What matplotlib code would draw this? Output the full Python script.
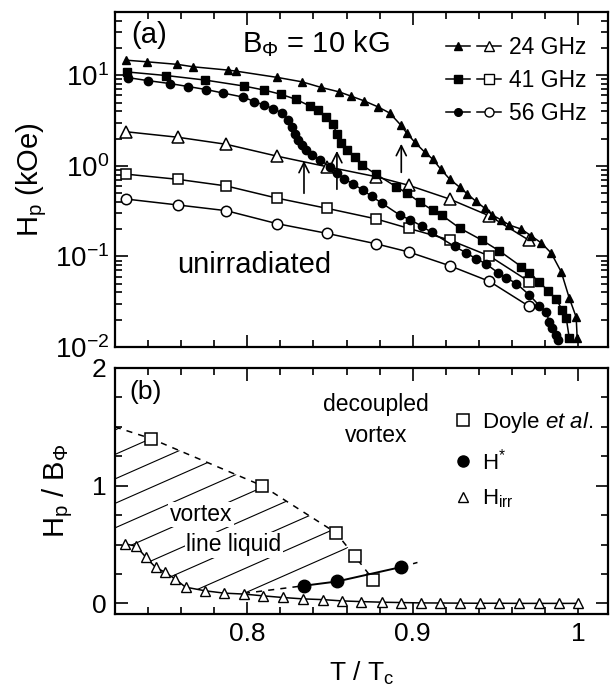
import matplotlib
matplotlib.use("Agg")
import matplotlib.pyplot as plt
from matplotlib.lines import Line2D
from matplotlib.legend_handler import HandlerTuple
from matplotlib.patches import Polygon
from matplotlib.ticker import MultipleLocator
import numpy as np

plt.rcParams['font.family'] = ['Liberation Sans', 'DejaVu Sans']
plt.rcParams['mathtext.fontset'] = 'custom'
plt.rcParams['mathtext.rm'] = 'Liberation Sans'
plt.rcParams['mathtext.it'] = 'Liberation Sans:italic'
plt.rcParams['mathtext.bf'] = 'Liberation Sans:bold'

# ---- panel (a): Hp vs T/Tc, unirradiated (open) and B_phi = 10 kG (filled)
t_open = [0.7268, 0.758, 0.7873, 0.818, 0.848, 0.8777, 0.8976, 0.9223, 0.9464, 0.9705]
open24 = [2.38, 2.07, 1.73, 1.28, 0.98, 0.76, 0.61, 0.43, 0.28, 0.15]
open41 = [0.81, 0.71, 0.60, 0.44, 0.34, 0.26, 0.204, 0.152, 0.101, 0.0526]
open56 = [0.43, 0.37, 0.32, 0.23, 0.18, 0.138, 0.112, 0.079, 0.053, 0.028]

t24 = [0.7265, 0.7392, 0.7578, 0.7675, 0.7886, 0.7934, 0.8181, 0.8331, 0.8446,
       0.8554, 0.8627, 0.8705, 0.8789, 0.8861, 0.8928, 0.8964, 0.9012, 0.9072,
       0.9120, 0.9169, 0.9223, 0.9283, 0.9331, 0.9380, 0.9434, 0.9482, 0.9536,
       0.9584, 0.9657, 0.9717, 0.9777, 0.9837, 0.9898, 0.9946, 0.9988, 0.9994]
h24 = [14.7, 14.1, 13.2, 12.4, 11.4, 11.1, 9.48, 8.47, 7.35,
       6.57, 5.89, 5.23, 4.49, 3.83, 2.82, 2.30, 1.83, 1.42,
       1.19, 0.922, 0.715, 0.583, 0.488, 0.409, 0.342, 0.286, 0.252,
       0.222, 0.200, 0.168, 0.141, 0.109, 0.0673, 0.0348, 0.0214, 0.0126]

t41 = [0.7271, 0.7512, 0.7747, 0.7982, 0.8102, 0.8205, 0.8295, 0.8380, 0.8428,
       0.8476, 0.8518, 0.8542, 0.8566, 0.8602, 0.8651, 0.8693, 0.8777, 0.8898,
       0.8964, 0.9042, 0.9120, 0.9175, 0.9283, 0.9416, 0.9524, 0.9657, 0.9705,
       0.9765, 0.9819, 0.9867, 0.9904, 0.9928, 0.9946]
h41 = [10.9, 9.93, 8.85, 7.60, 6.87, 6.16, 5.42, 4.57, 4.13,
       3.46, 2.89, 2.24, 1.79, 1.49, 1.25, 1.02, 0.812, 0.591,
       0.501, 0.398, 0.325, 0.286, 0.206, 0.152, 0.115, 0.077, 0.0656,
       0.0522, 0.0415, 0.0339, 0.0256, 0.0209, 0.0126]

t56 = [0.7277, 0.7398, 0.7536, 0.7645, 0.7753, 0.7855, 0.7976, 0.8042, 0.8102,
       0.8157, 0.8211, 0.8247, 0.8271, 0.8289, 0.8307, 0.8331, 0.8355, 0.8392,
       0.8440, 0.8500, 0.8542, 0.8584, 0.8639, 0.8699, 0.8753, 0.8813, 0.8922,
       0.8982, 0.9054, 0.9114, 0.9253, 0.9325, 0.9380, 0.9440, 0.9518, 0.9566,
       0.9627, 0.9705, 0.9765, 0.9807, 0.9825, 0.9843, 0.9867, 0.9880]
h56 = [9.44, 8.74, 8.09, 7.50, 6.95, 6.36, 5.74, 5.13, 4.69,
       4.29, 3.83, 3.20, 2.68, 2.27, 1.93, 1.70, 1.49, 1.32,
       1.16, 0.982, 0.833, 0.724, 0.630, 0.541, 0.459, 0.388, 0.286,
       0.255, 0.217, 0.184, 0.129, 0.109, 0.0948, 0.0835, 0.0656, 0.0578,
       0.0502, 0.0375, 0.0287, 0.0243, 0.0190, 0.0162, 0.0136, 0.0119]

# H* arrows (56, 41, 24 GHz)
arrow_t = [0.8343, 0.8542, 0.8931]
arrow_from = [0.464, 0.514, 0.79]
arrow_to = [1.22, 1.57, 1.88]

# ---- panel (b): phase diagram, Hp / B_phi
t_irr = [0.7263, 0.7329, 0.7388, 0.7446, 0.7505, 0.7564, 0.7627, 0.7745, 0.7861,
         0.7980, 0.8096, 0.8214, 0.8339, 0.8456, 0.8573, 0.8690, 0.8813, 0.8930,
         0.9048, 0.9165, 0.9283, 0.9407, 0.9524, 0.9642, 0.9764, 0.9886, 1.0]
h_irr = [0.506, 0.485, 0.391, 0.306, 0.263, 0.207, 0.138, 0.107, 0.087,
         0.079, 0.064, 0.050, 0.038, 0.032, 0.021, 0.015, 0.010, 0.007,
         0.004, 0.003, 0.002, 0.001, 0.001, 0.0, 0.0, 0.0, 0.0]

t_doyle = [0.7419, 0.8090, 0.8536, 0.8651, 0.8762]
h_doyle = [1.4, 1.0, 0.6, 0.4, 0.2]

t_star = [0.8343, 0.8542, 0.8931]
h_star = [0.15, 0.186, 0.309]

# boundaries of the vortex line liquid region
upper_t = [0.72] + t_doyle
upper_h = [1.5] + h_doyle
lower_t = [0.798, 0.8343]
lower_h = [0.085, 0.15]
ext_t = [0.8931, 0.906]
ext_h = [0.309, 0.36]


def style_axes(ax):
    ax.set_xlim(0.72, 1.018)
    ax.xaxis.set_major_locator(MultipleLocator(0.1))
    ax.xaxis.set_minor_locator(MultipleLocator(0.02))
    ax.tick_params(which='both', direction='in', top=True, right=True, width=1.2)
    ax.tick_params(which='major', length=9)
    ax.tick_params(which='minor', length=5)
    for s in ax.spines.values():
        s.set_linewidth(1.6)


fig = plt.figure(figsize=(6.11, 6.89), dpi=100)
ax1 = fig.add_axes([0.188, 0.4964, 0.807, 0.4862])
ax2 = fig.add_axes([0.188, 0.1089, 0.807, 0.357])

# ---------------- (a)
ax1.set_yscale('log')
ax1.set_ylim(0.01, 50)
style_axes(ax1)
ax1.tick_params(labelbottom=False, labelsize=20, pad=4)

lw = 1.1
ax1.plot(t_open, open24, '-', color='k', lw=lw, marker='^', mfc='white', mec='k', ms=8, mew=1.1)
ax1.plot(t_open, open41, '-', color='k', lw=lw, marker='s', mfc='white', mec='k', ms=7.5, mew=1.1)
ax1.plot(t_open, open56, '-', color='k', lw=lw, marker='o', mfc='white', mec='k', ms=7.5, mew=1.1)
ax1.plot(t24, h24, '-', color='k', lw=lw, marker='^', ms=6)
ax1.plot(t41, h41, '-', color='k', lw=lw, marker='s', ms=6)
ax1.plot(t56, h56, '-', color='k', lw=lw, marker='o', ms=6)

for t, a, b in zip(arrow_t, arrow_from, arrow_to):
    ax1.annotate('', xy=(t, b), xytext=(t, a),
                 arrowprops=dict(arrowstyle='->', lw=1.2, color='k', mutation_scale=18))

ax1.set_ylabel(r'$\mathrm{H_p}$ (kOe)', fontsize=21, labelpad=4)
ax1.text(0.034, 0.907, '(a)', transform=ax1.transAxes, fontsize=21, va='baseline')
ax1.text(0.258, 0.881, r'$\mathrm{B_\Phi}$ = 10 kG', transform=ax1.transAxes, fontsize=21,
         va='baseline')
ax1.text(0.126, 0.221, 'unirradiated', transform=ax1.transAxes, fontsize=21, va='baseline')

handles = []
for m in ['^', 's', 'o']:
    f = Line2D([], [], color='k', lw=lw, marker=m, ms=5.5)
    o = Line2D([], [], color='k', lw=lw, marker=m, mfc='white', mec='k', ms=6.5)
    handles.append((f, o))
ax1.legend(handles, ['24 GHz', '41 GHz', '56 GHz'],
           handler_map={tuple: HandlerTuple(ndivide=None, pad=0.3)},
           loc='upper left', bbox_to_anchor=(0.672, 0.927), frameon=False,
           fontsize=16.5, handlelength=2.4, handletextpad=0.35, labelspacing=0.42,
           borderaxespad=0.0, borderpad=0.0)

# ---------------- (b)
style_axes(ax2)
ax2.set_ylim(-0.09, 2)
ax2.yaxis.set_major_locator(MultipleLocator(1))
ax2.yaxis.set_minor_locator(MultipleLocator(0.25))
ax2.set_xticks([0.8, 0.9, 1.0], ['0.8', '0.9', '1'])
ax2.tick_params(labelsize=19, pad=6)

# hatched liquid region
irr_left = [(t, h) for t, h in zip(t_irr, h_irr) if t <= 0.798]
poly_pts = list(zip(upper_t[:4], upper_h[:4])) + [(0.861, 0.475), (0.8343, 0.15)] \
    + irr_left[::-1] + [(0.72, 0.53)]
region = Polygon(poly_pts, closed=True, facecolor='none', edgecolor='none')
ax2.add_patch(region)
slope = 6.2
for c in np.arange(-0.399, 1.5, 0.208):
    tt = np.array([0.70, 0.90])
    ln, = ax2.plot(tt, c + slope * (tt - 0.72), color='k', lw=0.8, zorder=1)
    ln.set_clip_path(region)

ax2.plot(upper_t, upper_h, '--', color='k', lw=1.1, dashes=(4, 4))
ax2.plot(lower_t, lower_h, '--', color='k', lw=1.1, dashes=(4, 4))
ax2.plot(ext_t, ext_h, '--', color='k', lw=1.1, dashes=(3, 5))
ax2.plot(t_irr, h_irr, '-', color='k', lw=1.1, marker='^', mfc='white', mec='k', ms=7, mew=1.0, zorder=3)
ax2.plot(t_doyle, h_doyle, 's', mfc='white', mec='k', ms=9, mew=1.1, zorder=3)
ax2.plot(t_star, h_star, '-', color='k', lw=1.4, marker='o', ms=9, zorder=3)

ax2.set_xlabel(r'T / $\mathrm{T_c}$', fontsize=19, labelpad=10)
ax2.set_ylabel(r'$\mathrm{H_p}$ / $\mathrm{B_\Phi}$', fontsize=21, labelpad=12)
ax2.text(0.030, 0.874, '(b)', transform=ax2.transAxes, fontsize=19, va='baseline')
ax2.text(0.8777, 1.637, 'decoupled', fontsize=16.5, ha='center', va='baseline')
ax2.text(0.8777, 1.372, 'vortex', fontsize=16.5, ha='center', va='baseline')
bb = dict(facecolor='white', edgecolor='none', pad=1.0)
ax2.text(0.7721, 0.699, 'vortex', fontsize=16.5, ha='center', va='baseline', bbox=bb, zorder=2)
ax2.text(0.792, 0.443, 'line liquid', fontsize=16.5, ha='center', va='baseline', bbox=bb, zorder=2)

h_d = Line2D([], [], ls='', marker='s', mfc='white', mec='k', ms=8, mew=1.1)
h_s = Line2D([], [], ls='', marker='o', color='k', ms=8)
h_i = Line2D([], [], ls='', marker='^', mfc='white', mec='k', ms=7, mew=1.0)
ax2.legend([h_d, h_s, h_i], [r'Doyle $\it{et\ al.}$', r'H$^{*}$', r'H$_{\rm irr}$'],
           loc='upper left', bbox_to_anchor=(0.688, 0.83), frameon=False, fontsize=16,
           handlelength=0.8, handletextpad=0.45, labelspacing=0.6,
           borderaxespad=0.0, borderpad=0.0)

fig.savefig('out.png', dpi=100)
